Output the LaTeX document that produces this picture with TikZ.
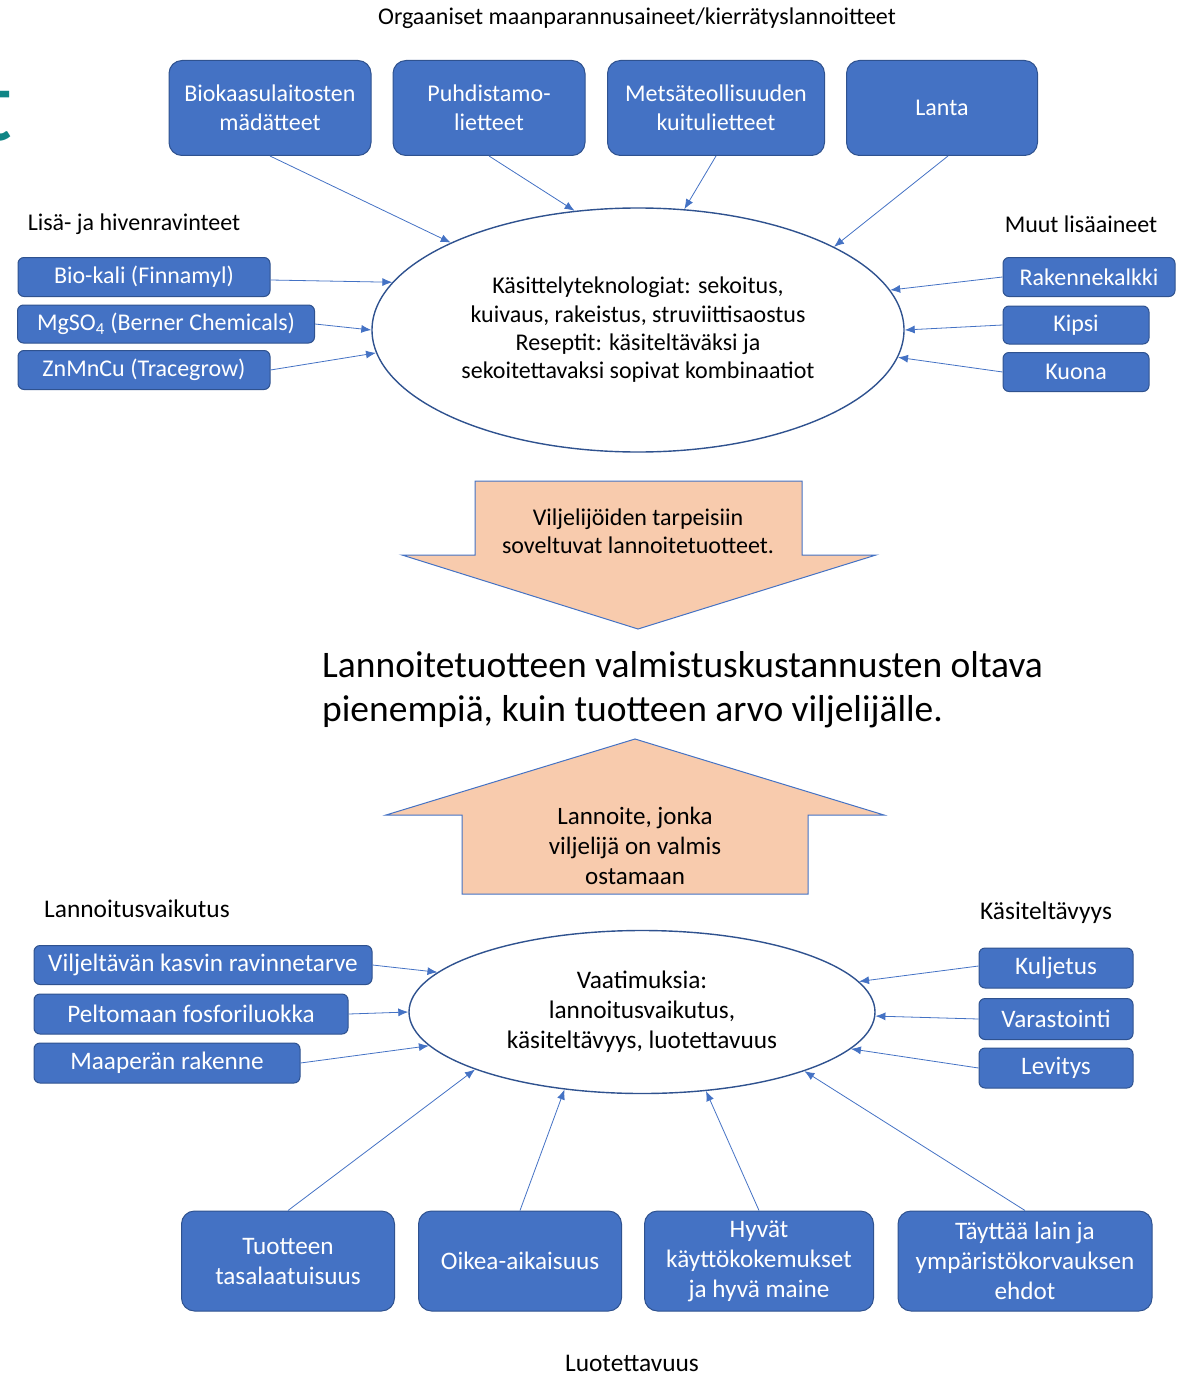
\documentclass[tikz,border=0pt]{standalone}
\usepackage{fontspec}
\setmainfont{Carlito}
\usepackage{tikz}
\usetikzlibrary{shapes.geometric}
\usetikzlibrary{arrows.meta}
\definecolor{boxblue}{HTML}{4472C4}
\definecolor{boxedge}{HTML}{2F528F}
\definecolor{peach}{HTML}{F8CBAD}
\definecolor{tealtitle}{HTML}{0F8585}

\begin{document}
\begin{tikzpicture}[x=1pt,y=-1pt,
  box/.style={rectangle, rounded corners=13pt, fill=boxblue, draw=boxedge, line width=1pt, text=white, align=center, inner sep=0pt, font=\fontsize{24}{29}\selectfont},
  lowbox/.style={box, rounded corners=8pt, font=\fontsize{25.2}{30}\selectfont},
  hub/.style={ellipse, draw=boxedge, line width=1.4pt, inner sep=0pt, align=center},
  head/.style={inner sep=0pt, font=\fontsize{24}{28}\selectfont},
  lowhead/.style={head, font=\fontsize{25.4}{30}\selectfont},
  conn/.style={draw=boxblue, line width=0.8pt, -{Latex[length=10pt,width=8pt]}},
  bigarrow/.style={fill=peach, draw=boxblue, line width=1pt}]
\useasboundingbox (0,0) rectangle (1187,1375);
\node[anchor=base east, inner sep=0pt, text=tealtitle, font=\fontsize{105}{110}\selectfont] (ttl) at (13,141) {t};

\node[head] (orghead) at (637,18) {Orgaaniset maanparannusaineet/kierrätyslannoitteet};
\node[box, minimum width=202pt, minimum height=95pt] (bio) at (270,108) {Biokaasulaitosten\\mädätteet};
\node[box, minimum width=192pt, minimum height=95pt] (puhd) at (489,108) {Puhdistamo-\\lietteet};
\node[box, minimum width=217pt, minimum height=95pt] (mets) at (716,108) {Metsäteollisuuden\\kuitulietteet};
\node[box, minimum width=191pt, minimum height=95pt] (lanta) at (942,108) {Lanta};

\node[head] (lisahead) at (134,224) {Lisä- ja hivenravinteet};
\node[head] (muuthead) at (1081,224) {Muut lisäaineet};
\node[box, rounded corners=6pt, minimum width=252pt, minimum height=39pt] (kali) at (144,277) {Bio-kali (Finnamyl)};
\node[box, rounded corners=6pt, minimum width=297pt, minimum height=38pt] (mgso) at (166,324) {MgSO\textsubscript{4} (Berner Chemicals)};
\node[box, rounded corners=6pt, minimum width=252pt, minimum height=39pt] (znmn) at (144,370) {ZnMnCu (Tracegrow)};
\node[box, rounded corners=6pt, minimum width=172pt, minimum height=39pt] (kalkki) at (1089,277) {Rakennekalkki};
\node[box, rounded corners=6pt, minimum width=146pt, minimum height=38pt] (kipsi) at (1076,325) {Kipsi};
\node[box, rounded corners=6pt, minimum width=146pt, minimum height=39pt] (kuona) at (1076,372) {Kuona};

\node[hub, minimum width=532pt, minimum height=244pt, font=\fontsize{24}{28.3}\selectfont] (kasittely) at (638,330) {Käsittelyteknologiat: sekoitus,\\kuivaus, rakeistus, struviittisaostus\\Reseptit: käsiteltäväksi ja\\sekoitettavaksi sopivat kombinaatiot};

\draw[bigarrow] (475,481) -- (802,481) -- (802,555) -- (876,555) -- (638,629) -- (402,555) -- (475,555) -- cycle;
\node[inner sep=0pt, align=center, font=\fontsize{24}{28}\selectfont] (tarve) at (638,531) {Viljelijöiden tarpeisiin\\soveltuvat lannoitetuotteet.};

\node[anchor=west, inner sep=0pt, align=left, font=\fontsize{37.5}{44}\selectfont] (kustannus) at (322,690) {Lannoitetuotteen valmistuskustannusten oltava\\pienempiä, kuin tuotteen arvo viljelijälle.};

\draw[bigarrow] (635,739) -- (884,815) -- (808,815) -- (808,894) -- (462,894) -- (462,815) -- (386,815) -- cycle;
\node[inner sep=0pt, align=center, font=\fontsize{25}{30}\selectfont] (ostaa) at (635,846) {Lannoite, jonka\\viljelijä on valmis\\ostamaan};

\node[lowhead] (vaikhead) at (137,909) {Lannoitusvaikutus};
\node[lowhead] (kasihead) at (1046,913) {Käsiteltävyys};
\node[hub, minimum width=466pt, minimum height=163pt, font=\fontsize{25.3}{30}\selectfont] (vaat) at (642,1012) {Vaatimuksia:\\lannoitusvaikutus,\\käsiteltävyys, luotettavuus};

\node[lowbox, rounded corners=6pt, minimum width=338pt, minimum height=39pt] (ravtarve) at (203,965) {Viljeltävän kasvin ravinnetarve};
\node[lowbox, rounded corners=6pt, minimum width=314pt, minimum height=40pt] (fosfori) at (191,1014) {Peltomaan fosforiluokka};
\node[lowbox, rounded corners=6pt, minimum width=266pt, minimum height=40pt] (rakenne) at (167,1063) {Maaperän rakenne};
\node[lowbox, rounded corners=6pt, minimum width=154pt, minimum height=40pt] (kuljetus) at (1056,968) {Kuljetus};
\node[lowbox, rounded corners=6pt, minimum width=154pt, minimum height=41pt] (varast) at (1056,1019) {Varastointi};
\node[lowbox, rounded corners=6pt, minimum width=154pt, minimum height=40pt] (levitys) at (1056,1068) {Levitys};

\node[lowbox, rounded corners=13pt, minimum width=213pt, minimum height=100pt] (tasalaatu) at (288,1261) {Tuotteen\\tasalaatuisuus};
\node[lowbox, rounded corners=13pt, minimum width=203pt, minimum height=100pt] (oikea) at (520,1261) {Oikea-aikaisuus};
\node[lowbox, rounded corners=13pt, minimum width=229pt, minimum height=100pt] (maine) at (759,1261) {Hyvät\\käyttökokemukset\\ja hyvä maine};
\node[lowbox, rounded corners=13pt, minimum width=254pt, minimum height=100pt] (ehdot) at (1025,1261) {Täyttää lain ja\\ympäristökorvauksen\\ehdot};
\node[lowhead] (luothead) at (632,1363) {Luotettavuus};

\draw[conn] (bio.south) -- (kasittely.155.2);
\draw[conn] (puhd.south) -- (kasittely.118);
\draw[conn] (mets.south) -- (kasittely.69);
\draw[conn] ([xshift=6pt]lanta.south) -- (kasittely.23.8);
\draw[conn] ([yshift=-3pt]kali.east) -- (kasittely.169.4);
\draw[conn] (mgso.east) -- (kasittely.180);
\draw[conn] (znmn.east) -- (kasittely.185.1);
\draw[conn] (kalkki.west) -- (kasittely.9.2);
\draw[conn] (kipsi.west) -- (kasittely.0);
\draw[conn] (kuona.west) -- (kasittely.354.7);

\draw[conn] (ravtarve.east) -- (vaat.169.3);
\draw[conn] (fosfori.east) -- (vaat.180);
\draw[conn] (rakenne.east) -- (vaat.189.1);
\draw[conn] ([yshift=2pt]kuljetus.west) -- (vaat.8.1);
\draw[conn] (varast.west) -- (vaat.359.5);
\draw[conn] (levitys.west) -- (vaat.350.3);
\draw[conn] (tasalaatu.north) -- (vaat.199.7);
\draw[conn] (oikea.north) -- (vaat.225.8);
\draw[conn] (maine.north) -- (vaat.309.9);
\draw[conn] (ehdot.north) -- (vaat.340.7);
\end{tikzpicture}
\end{document}
